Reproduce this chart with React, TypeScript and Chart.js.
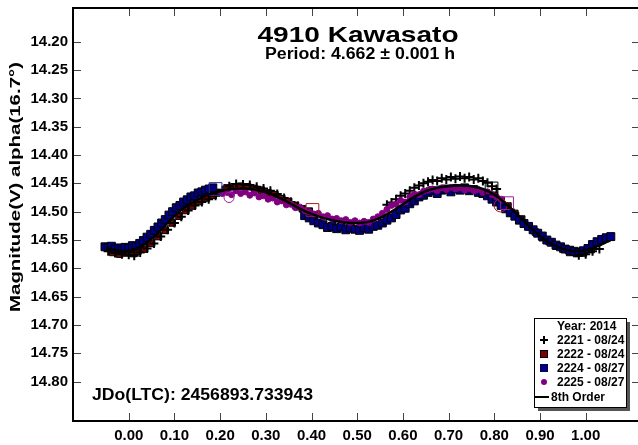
import React, { useEffect, useRef } from "react";
import { Chart, registerables } from "chart.js";

Chart.register(...registerables);

const FONT = '"Liberation Sans", Arial, Helvetica, sans-serif';

const titleText = "4910 Kawasato";
const subtitleText = "Period: 4.662 ± 0.001 h";
const jdText = "JDo(LTC): 2456893.733943";
const yAxisTitle = "Magnitude(V) alpha(16.7°)";
const legendTitle = "Year: 2014";
const seriesLabels = ["2221 - 08/24", "2222 - 08/24", "2224 - 08/27", "2225 - 08/27", "8th Order"];

const xTickValues = [0.0, 0.1, 0.2, 0.3, 0.4, 0.5, 0.6, 0.7, 0.8, 0.9, 1.0];
const yTickValues = [14.2, 14.25, 14.3, 14.35, 14.4, 14.45, 14.5, 14.55, 14.6, 14.65, 14.7, 14.75, 14.8];

// 8th order Fourier fit
const fitPhase = [-0.05, -0.025, 0, 0.025, 0.05, 0.075, 0.1, 0.125, 0.15, 0.175, 0.2, 0.225, 0.25, 0.275, 0.3, 0.325, 0.35, 0.375, 0.4, 0.425, 0.45, 0.475, 0.5, 0.525, 0.55, 0.575, 0.6, 0.625, 0.65, 0.675, 0.7, 0.725, 0.75, 0.775, 0.8, 0.825, 0.85, 0.875, 0.9, 0.925, 0.95, 0.975, 1.0, 1.025, 1.05];
const fitMag = [14.565, 14.569, 14.569, 14.562, 14.548, 14.528, 14.508, 14.491, 14.479, 14.47, 14.464, 14.46, 14.459, 14.461, 14.466, 14.474, 14.484, 14.495, 14.504, 14.511, 14.516, 14.519, 14.52, 14.518, 14.511, 14.5, 14.487, 14.474, 14.464, 14.458, 14.455, 14.454, 14.455, 14.46, 14.47, 14.486, 14.505, 14.525, 14.543, 14.557, 14.566, 14.57, 14.568, 14.561, 14.552];

// 2221 - 08/24 (crosses)
const s2221Phase = [-0.045, -0.03, -0.015, 0.0, 0.012, 0.025, 0.04, 0.055, 0.07, 0.085, 0.1, 0.115, 0.13, 0.145, 0.16, 0.175, 0.19, 0.205, 0.22, 0.235, 0.25, 0.265, 0.28, 0.295, 0.31, 0.325, 0.34, 0.355, 0.37, 0.385, 0.4,
  0.565, 0.575, 0.585, 0.595, 0.605, 0.615, 0.625, 0.635, 0.645, 0.655, 0.665, 0.675, 0.685, 0.695, 0.705, 0.715, 0.725, 0.735, 0.745, 0.755, 0.765, 0.775, 0.785, 0.795, 0.805,
  0.985, 1.0, 1.015, 1.03];
const s2221Mag = [14.57, 14.573, 14.575, 14.576, 14.578, 14.572, 14.565, 14.556, 14.544, 14.532, 14.52, 14.509, 14.498, 14.489, 14.483, 14.478, 14.472, 14.462, 14.455, 14.451, 14.452, 14.453, 14.456, 14.459, 14.463, 14.469, 14.476, 14.483, 14.49, 14.496, 14.502,
  14.488, 14.484, 14.478, 14.472, 14.468, 14.463, 14.458, 14.454, 14.45, 14.447, 14.444, 14.446, 14.441, 14.443, 14.439, 14.442, 14.438, 14.441, 14.439, 14.443, 14.441, 14.446, 14.449, 14.455, 14.46,
  14.577, 14.575, 14.57, 14.566];

// 2222 - 08/24 (dark red squares)
const s2222Phase = [-0.035, -0.02, -0.005, 0.01, 0.02, 0.035, 0.05, 0.065, 0.08, 0.095, 0.11, 0.125, 0.14, 0.155, 0.17, 0.185, 0.2,
  0.215, 0.23, 0.245, 0.26, 0.275, 0.29, 0.305, 0.32, 0.335, 0.35, 0.365, 0.38, 0.395,
  0.8, 0.815, 0.83, 0.845, 0.86, 0.875, 0.89, 0.905, 0.92, 0.935, 0.95, 0.965, 0.98, 0.995, 1.012];
const s2222Mag = [14.572, 14.575, 14.573, 14.574, 14.57, 14.566, 14.556, 14.544, 14.533, 14.52, 14.508, 14.498, 14.49, 14.482, 14.476, 14.471, 14.466,
  14.458, 14.456, 14.455, 14.456, 14.459, 14.462, 14.467, 14.47, 14.477, 14.482, 14.489, 14.495, 14.499,
  14.471, 14.48, 14.49, 14.503, 14.513, 14.526, 14.536, 14.546, 14.553, 14.561, 14.566, 14.572, 14.574, 14.573, 14.567];

// 2224 - 08/27 (navy squares)
const s2224Phase = [-0.052, -0.045, -0.038, -0.03, -0.022, -0.015, -0.008, 0.0, 0.008, 0.016, 0.024, 0.032, 0.04, 0.048, 0.056, 0.064, 0.072, 0.08, 0.088, 0.096, 0.104, 0.112, 0.12, 0.128, 0.136, 0.144, 0.152, 0.16, 0.168, 0.176, 0.184,
  0.385, 0.395, 0.405, 0.415, 0.425, 0.435, 0.445, 0.455, 0.465, 0.475, 0.485, 0.495, 0.505, 0.515, 0.525, 0.535, 0.545, 0.555, 0.565, 0.575, 0.585, 0.595, 0.605, 0.615, 0.625, 0.635, 0.645, 0.655, 0.665, 0.675, 0.685, 0.695, 0.705, 0.715, 0.725, 0.735, 0.745, 0.755, 0.765, 0.775, 0.785, 0.795, 0.805, 0.815, 0.825, 0.835, 0.845, 0.855, 0.865, 0.875, 0.885, 0.895, 0.905, 0.915, 0.925, 0.935, 0.945, 0.955, 0.965, 0.975, 0.985, 0.995, 1.005, 1.015, 1.025, 1.035, 1.045, 1.055];
const s2224Mag = [14.562, 14.563, 14.561, 14.566, 14.564, 14.566, 14.563, 14.565, 14.56, 14.561, 14.556, 14.551, 14.545, 14.54, 14.533, 14.527, 14.52, 14.514, 14.506, 14.5, 14.493, 14.489, 14.483, 14.479, 14.474, 14.472, 14.467, 14.465, 14.462, 14.46, 14.458,
  14.507, 14.511, 14.516, 14.52, 14.523, 14.528, 14.526, 14.53, 14.527, 14.532, 14.529, 14.531, 14.533, 14.528, 14.531, 14.526, 14.524, 14.52, 14.515, 14.511, 14.505, 14.497, 14.494, 14.486, 14.481, 14.474, 14.471, 14.466, 14.463, 14.468, 14.462, 14.46, 14.465, 14.459, 14.462, 14.458, 14.463, 14.461, 14.466, 14.468, 14.472, 14.478, 14.483, 14.489, 14.495, 14.502, 14.508, 14.515, 14.521, 14.526, 14.532, 14.538, 14.543, 14.55, 14.554, 14.559, 14.562, 14.566, 14.568, 14.57, 14.572, 14.569, 14.565, 14.558, 14.553, 14.549, 14.546, 14.544];

// 2225 - 08/27 (purple circles)
const s2225Phase = [0.205, 0.215, 0.225, 0.235, 0.245, 0.255, 0.265, 0.275, 0.285, 0.295, 0.305, 0.315, 0.325, 0.335, 0.345, 0.355, 0.365, 0.375, 0.385, 0.395, 0.405, 0.415, 0.425, 0.435, 0.445, 0.455, 0.465, 0.475, 0.485, 0.495, 0.505, 0.515, 0.525, 0.535, 0.545, 0.555, 0.565, 0.575, 0.585, 0.595, 0.605, 0.615, 0.625, 0.635, 0.645, 0.655, 0.665, 0.675, 0.685, 0.695, 0.705, 0.715, 0.725, 0.735, 0.745, 0.755, 0.765, 0.775, 0.785, 0.795, 0.805, 0.815];
const s2225Mag = [14.468, 14.466, 14.47, 14.463, 14.468, 14.465, 14.471, 14.467, 14.474, 14.472, 14.478, 14.476, 14.483, 14.481, 14.488, 14.487, 14.493, 14.492, 14.498, 14.5, 14.504, 14.503, 14.509, 14.507, 14.513, 14.512, 14.516, 14.514, 14.519, 14.516, 14.52, 14.517, 14.519, 14.513, 14.509, 14.503, 14.496, 14.489, 14.487, 14.48, 14.483, 14.474, 14.469, 14.47, 14.464, 14.462, 14.46, 14.463, 14.458, 14.461, 14.457, 14.46, 14.458, 14.462, 14.459, 14.463, 14.461, 14.466, 14.465, 14.47, 14.474, 14.478];

// marked (hollow) observations
const markedSquarePhase = [0.19, 0.402, 0.794, 0.828];
const markedSquareMag = [14.46, 14.497, 14.459, 14.485];
const markedCirclePhase = [0.2195, 0.8136];
const markedCircleMag = [14.475, 14.489];

const toPts = (p: number[], m: number[]) => p.map((x, i) => ({ x, y: m[i] }));

function stretchedText(ctx: CanvasRenderingContext2D, text: string, x: number, y: number, font: string, width: number, align: CanvasTextAlign, rotate = false) {
  ctx.save();
  ctx.font = font;
  const w = ctx.measureText(text).width;
  const sx = width / w;
  ctx.translate(x, y);
  if (rotate) ctx.rotate(-Math.PI / 2);
  ctx.scale(sx, 1);
  ctx.textAlign = align;
  ctx.textBaseline = "alphabetic";
  ctx.fillStyle = "#000";
  ctx.fillText(text, 0, 0);
  ctx.restore();
}

const decorPlugin = {
  id: "decor",
  afterDatasetsDraw(chart: any) {
    const { ctx, chartArea: a, scales } = chart;
    ctx.save();
    ctx.strokeStyle = "#444";
    ctx.lineWidth = 1;
    ctx.beginPath();
    for (const t of scales.x.ticks) {
      const px = Math.round(scales.x.getPixelForValue(t.value)) + 0.5;
      ctx.moveTo(px, a.bottom);
      ctx.lineTo(px, a.bottom - 8);
      ctx.moveTo(px, a.top);
      ctx.lineTo(px, a.top + 8);
    }
    for (const t of scales.y.ticks) {
      const py = Math.round(scales.y.getPixelForValue(t.value)) + 0.5;
      ctx.moveTo(a.left, py);
      ctx.lineTo(a.left + 8, py);
      ctx.moveTo(a.right, py);
      ctx.lineTo(a.right - 6, py);
    }
    ctx.stroke();
    // frame: top, left, bottom (right border lies just outside the picture)
    ctx.strokeStyle = "#000";
    ctx.lineWidth = 2;
    ctx.beginPath();
    ctx.moveTo(a.right, a.top);
    ctx.lineTo(a.left, a.top);
    ctx.lineTo(a.left, a.bottom);
    ctx.lineTo(a.right, a.bottom);
    ctx.stroke();
    ctx.restore();
  },
  afterDraw(chart: any) {
    const ctx: CanvasRenderingContext2D = chart.ctx;
    stretchedText(ctx, titleText, 358, 42, `bold 22px ${FONT}`, 201, "center");
    stretchedText(ctx, subtitleText, 360, 59, `bold 16px ${FONT}`, 190, "center");
    stretchedText(ctx, jdText, 92, 400, `bold 16px ${FONT}`, 221, "left");
    stretchedText(ctx, yAxisTitle, 20, 187, `bold 15px ${FONT}`, 250, "center", true);

    // legend
    ctx.save();
    const bx = 534, by = 318, bw = 92, bh = 89;
    ctx.fillStyle = "#555";
    ctx.fillRect(bx + 4, by + 4, bw, bh);
    ctx.fillStyle = "#fff";
    ctx.fillRect(bx, by, bw, bh);
    ctx.strokeStyle = "#000";
    ctx.lineWidth = 1;
    ctx.strokeRect(bx + 0.5, by + 0.5, bw, bh);
    ctx.font = `bold 12px ${FONT}`;
    ctx.fillStyle = "#000";
    ctx.textAlign = "left";
    ctx.textBaseline = "alphabetic";
    ctx.fillText(legendTitle, 557, 330);
    const rows = [344, 358, 372, 386];
    const mx = 544;
    // cross
    let cy = rows[0] - 4;
    ctx.strokeStyle = "#000";
    ctx.lineWidth = 2;
    ctx.beginPath();
    ctx.moveTo(mx - 4, cy); ctx.lineTo(mx + 4, cy);
    ctx.moveTo(mx, cy - 4); ctx.lineTo(mx, cy + 4);
    ctx.stroke();
    // red square
    cy = rows[1] - 4;
    ctx.lineWidth = 1;
    ctx.fillStyle = "#800000";
    ctx.fillRect(mx - 3.5, cy - 3.5, 7, 7);
    ctx.strokeRect(mx - 3.5, cy - 3.5, 7, 7);
    // blue square
    cy = rows[2] - 4;
    ctx.fillStyle = "#000080";
    ctx.fillRect(mx - 3.5, cy - 3.5, 7, 7);
    ctx.strokeStyle = "#000060";
    ctx.strokeRect(mx - 3.5, cy - 3.5, 7, 7);
    // purple circle
    cy = rows[3] - 4;
    ctx.fillStyle = "#800080";
    ctx.beginPath();
    ctx.arc(mx, cy, 3, 0, Math.PI * 2);
    ctx.fill();
    // line
    ctx.strokeStyle = "#000";
    ctx.lineWidth = 2;
    ctx.beginPath();
    ctx.moveTo(535, 397);
    ctx.lineTo(549, 397);
    ctx.stroke();
    ctx.fillStyle = "#000";
    for (let i = 0; i < 4; i++) ctx.fillText(seriesLabels[i], 557, rows[i]);
    ctx.fillText(seriesLabels[4], 551, 401);
    ctx.restore();
  },
};

export default function App() {
  const ref = useRef<HTMLCanvasElement | null>(null);
  useEffect(() => {
    if (!ref.current) return;
    const chart = new Chart(ref.current, {
      type: "scatter",
      data: {
        datasets: [
          {
            type: "line",
            label: seriesLabels[4],
            data: toPts(fitPhase, fitMag),
            borderColor: "#000",
            borderWidth: 2.5,
            pointRadius: 0,
            tension: 0.4,
            fill: false,
            order: 0,
          } as any,
          {
            label: "marked squares",
            data: toPts(markedSquarePhase, markedSquareMag),
            pointStyle: "rect",
            pointRadius: 9,
            pointBackgroundColor: "rgba(0,0,0,0)",
            pointBorderColor: ["#3030a0", "#a02020", "#000000", "#a020a0"],
            pointBorderWidth: 1,
            order: 1,
          },
          {
            label: "marked circles",
            data: toPts(markedCirclePhase, markedCircleMag),
            pointStyle: "circle",
            pointRadius: [5, 6.5],
            pointBackgroundColor: "rgba(0,0,0,0)",
            pointBorderColor: ["#a020a0", "#a02020"],
            pointBorderWidth: 1,
            order: 1,
          },
          {
            label: seriesLabels[3],
            data: toPts(s2225Phase, s2225Mag),
            pointStyle: "circle",
            pointRadius: 3,
            pointBackgroundColor: "#800080",
            pointBorderColor: "#800080",
            pointBorderWidth: 1,
            order: 2,
          },
          {
            label: seriesLabels[0],
            data: toPts(s2221Phase, s2221Mag),
            pointStyle: "cross",
            pointRadius: 4.5,
            pointBorderColor: "#000",
            pointBorderWidth: 2,
            order: 3,
          },
          {
            label: seriesLabels[2],
            data: toPts(s2224Phase, s2224Mag),
            pointStyle: "rect",
            pointRadius: 5.6,
            pointBackgroundColor: "#000080",
            pointBorderColor: "#000",
            pointBorderWidth: 1,
            order: 4,
          },
          {
            label: seriesLabels[1],
            data: toPts(s2222Phase, s2222Mag),
            pointStyle: "rect",
            pointRadius: 4.6,
            pointBackgroundColor: "#800000",
            pointBorderColor: "#000",
            pointBorderWidth: 1,
            order: 5,
          },
        ],
      },
      options: {
        animation: false,
        responsive: false,
        devicePixelRatio: 1,
        events: [],
        layout: { autoPadding: false, padding: { left: 0, top: 8, right: 0, bottom: 0 } },
        plugins: { legend: { display: false }, tooltip: { enabled: false }, title: { display: false } },
        scales: {
          x: {
            type: "linear",
            min: -0.122,
            max: 1.1145,
            grid: { display: false, drawTicks: false },
            border: { display: false },
            afterFit: (s: any) => { s.height = 24; s.paddingLeft = 0; s.paddingRight = 0; s.paddingTop = 0; s.paddingBottom = 0; },
            afterBuildTicks: (s: any) => { s.ticks = xTickValues.map((v) => ({ value: v })); },
            ticks: {
              padding: 6,
              color: "#000",
              autoSkip: false,
              maxRotation: 0,
              font: { family: FONT, size: 15, weight: "bold" },
              callback: (v: any) => Number(v).toFixed(2),
            },
          },
          y: {
            type: "linear",
            reverse: true,
            min: 14.1405,
            max: 14.8695,
            grid: { display: false, drawTicks: false },
            border: { display: false },
            afterFit: (s: any) => { s.width = 73; s.paddingLeft = 0; s.paddingRight = 0; s.paddingTop = 0; s.paddingBottom = 0; },
            afterBuildTicks: (s: any) => { s.ticks = yTickValues.map((v) => ({ value: v })); },
            ticks: {
              padding: 5,
              color: "#000",
              autoSkip: false,
              font: { family: FONT, size: 15, weight: "bold" },
              callback: (v: any) => Number(v).toFixed(2),
            },
          },
        },
      } as any,
      plugins: [decorPlugin],
    });
    return () => chart.destroy();
  }, []);

  return (
    <div style={{ position: "fixed", left: 0, top: 0, width: 638, height: 445, overflow: "hidden", background: "#fff" }}>
      <canvas ref={ref} width={638} height={445} style={{ display: "block", width: 638, height: 445 }} />
    </div>
  );
}
